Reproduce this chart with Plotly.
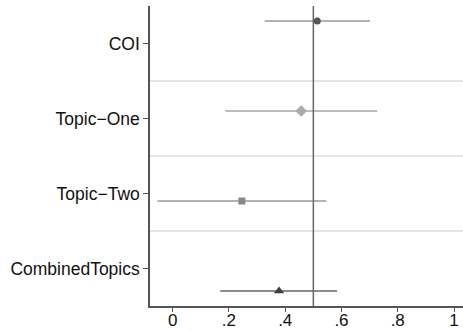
import plotly.graph_objects as go

categories = ["COI", "Topic\u2212One", "Topic\u2212Two", "CombinedTopics"]
estimates = [0.514, 0.457, 0.246, 0.378]
ci_low = [0.327, 0.187, -0.054, 0.169]
ci_high = [0.702, 0.727, 0.546, 0.584]
marker_symbols = ["circle", "diamond", "square", "triangle-up"]
marker_colors = ["#555555", "#aaaaaa", "#888888", "#3f3f3f"]
line_colors = ["#999999", "#a6a6a6", "#999999", "#666666"]
marker_sizes = [7, 9, 7, 9]
x_tickvals = [0, 0.2, 0.4, 0.6, 0.8, 1]
x_ticktext = ["0", ".2", ".4", ".6", ".8", "1"]
ref_value = 0.5

n = len(categories)
pad = 1 / 6
lo_edge = 1 - pad
hi_edge = n + pad
band = (hi_edge - lo_edge) / n
tick_pos = [lo_edge + band * (i + 0.5) for i in range(n)]
grid_pos = [lo_edge + band * (i + 1) for i in range(n - 1)]

fig = go.Figure()
for i in range(n):
    fig.add_trace(go.Scatter(
        x=[estimates[i]], y=[i + 1], mode="markers",
        marker=dict(symbol=marker_symbols[i], color=marker_colors[i], size=marker_sizes[i],
                    line=dict(width=0)),
        error_x=dict(type="data", symmetric=False,
                     array=[ci_high[i] - estimates[i]],
                     arrayminus=[estimates[i] - ci_low[i]],
                     color=line_colors[i], thickness=1.6, width=0),
        showlegend=False, hoverinfo="skip"))

fig.add_shape(type="line", xref="x", yref="paper", x0=ref_value, x1=ref_value, y0=0, y1=1,
              line=dict(color="#666666", width=1.5), layer="above")

fig.update_layout(
    width=463, height=331,
    margin=dict(l=150, r=0, t=6, b=25, pad=0),
    paper_bgcolor="white", plot_bgcolor="white",
    font=dict(family="Liberation Sans, Arial, sans-serif", size=17.5, color="#111111"),
    xaxis=dict(range=[-0.0807, 1.032], tickvals=x_tickvals, ticktext=x_ticktext,
               showgrid=False, zeroline=False, showline=True, linecolor="#555555", linewidth=1.5,
               ticks="outside", ticklen=4, tickwidth=1.2, tickcolor="#555555", automargin=False,
               ticklabelstandoff=-6, tickfont=dict(size=17)),
    yaxis=dict(range=[hi_edge, lo_edge], tickvals=tick_pos, ticktext=categories,
               showgrid=False, zeroline=False, showline=True, linecolor="#555555", linewidth=1.5,
               ticks="outside", ticklen=5, tickwidth=1.2, tickcolor="#555555", automargin=False,
               minor=dict(tickmode="array", tickvals=grid_pos, showgrid=True,
                          gridcolor="#e6e6e6", gridwidth=1.5, ticks="")),
)

fig.write_html("out.html")
